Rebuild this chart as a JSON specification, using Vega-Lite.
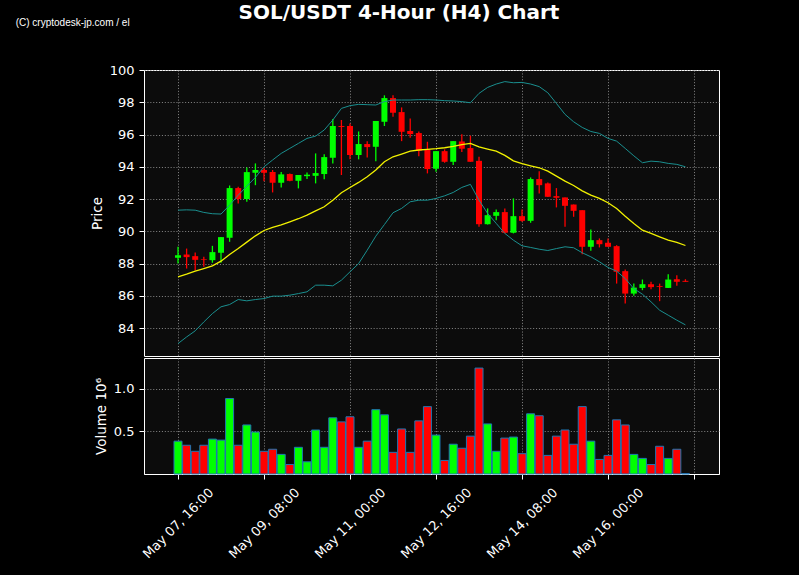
{
  "$schema": "https://vega.github.io/schema/vega-lite/v6.json",
  "background": "#000000",
  "padding": {"left": 15, "top": 2, "right": 79, "bottom": 17},
  "title": {
    "text": "(C) cryptodesk-jp.com / el",
    "anchor": "start",
    "frame": "bounds",
    "font": "Liberation Sans",
    "fontSize": 10,
    "fontWeight": "normal",
    "color": "#ffffff",
    "baseline": "alphabetic",
    "offset": -33,
    "dx": -74
  },
  "config": {
    "view": {"stroke": "#ffffff", "strokeWidth": 1, "fill": "#0c0c0c"},
    "axis": {
      "labelColor": "#ffffff",
      "titleColor": "#ffffff",
      "tickColor": "#ffffff",
      "domainColor": "#ffffff",
      "labelFont": "DejaVu Sans",
      "titleFont": "DejaVu Sans",
      "labelFontSize": 13,
      "titleFontSize": 13.5,
      "titleFontWeight": "normal",
      "tickSize": 5,
      "labelPadding": 5,
      "titlePadding": 5,
      "labelOverlap": false,
      "gridColor": "#8a8a8a",
      "gridDash": [1.1, 1.8],
      "gridWidth": 0.9,
      "gridOpacity": 1
    }
  },
  "datasets": {
    "candles": [
      {"t": "2025-05-07T16:00", "o": 88.36, "h": 89.04, "l": 88.00, "c": 88.52, "v": 385000, "bu": 91.31, "bm": 87.18, "bl": 83.04},
      {"t": "2025-05-07T20:00", "o": 88.56, "h": 88.93, "l": 87.69, "c": 88.40, "v": 337000, "bu": 91.33, "bm": 87.34, "bl": 83.45},
      {"t": "2025-05-08T00:00", "o": 88.46, "h": 88.69, "l": 87.59, "c": 88.23, "v": 266000, "bu": 91.31, "bm": 87.53, "bl": 83.83},
      {"t": "2025-05-08T04:00", "o": 88.27, "h": 88.42, "l": 87.80, "c": 88.23, "v": 337000, "bu": 91.17, "bm": 87.69, "bl": 84.38},
      {"t": "2025-05-08T08:00", "o": 88.21, "h": 89.10, "l": 88.05, "c": 88.71, "v": 409000, "bu": 91.09, "bm": 87.86, "bl": 84.90},
      {"t": "2025-05-08T12:00", "o": 88.67, "h": 89.64, "l": 88.05, "c": 89.64, "v": 397000, "bu": 91.07, "bm": 88.15, "bl": 85.32},
      {"t": "2025-05-08T16:00", "o": 89.60, "h": 92.84, "l": 89.35, "c": 92.68, "v": 885000, "bu": 91.62, "bm": 88.56, "bl": 85.46},
      {"t": "2025-05-08T20:00", "o": 92.68, "h": 92.76, "l": 91.73, "c": 92.00, "v": 337000, "bu": 92.24, "bm": 88.93, "bl": 85.77},
      {"t": "2025-05-09T00:00", "o": 92.00, "h": 93.96, "l": 91.83, "c": 93.67, "v": 575000, "bu": 92.80, "bm": 89.33, "bl": 85.69},
      {"t": "2025-05-09T04:00", "o": 93.63, "h": 94.21, "l": 92.86, "c": 93.80, "v": 492000, "bu": 93.34, "bm": 89.72, "bl": 85.77},
      {"t": "2025-05-09T08:00", "o": 93.80, "h": 93.92, "l": 93.11, "c": 93.63, "v": 266000, "bu": 94.00, "bm": 90.05, "bl": 85.83},
      {"t": "2025-05-09T12:00", "o": 93.67, "h": 93.80, "l": 92.41, "c": 93.01, "v": 290000, "bu": 94.42, "bm": 90.24, "bl": 85.98},
      {"t": "2025-05-09T16:00", "o": 93.01, "h": 93.67, "l": 92.72, "c": 93.53, "v": 230000, "bu": 94.83, "bm": 90.40, "bl": 85.98},
      {"t": "2025-05-09T20:00", "o": 93.55, "h": 93.59, "l": 93.11, "c": 93.13, "v": 111000, "bu": 95.14, "bm": 90.59, "bl": 86.04},
      {"t": "2025-05-10T00:00", "o": 93.13, "h": 93.49, "l": 92.66, "c": 93.49, "v": 313000, "bu": 95.45, "bm": 90.78, "bl": 86.14},
      {"t": "2025-05-10T04:00", "o": 93.42, "h": 93.65, "l": 93.24, "c": 93.51, "v": 143000, "bu": 95.76, "bm": 91.00, "bl": 86.25},
      {"t": "2025-05-10T08:00", "o": 93.44, "h": 94.83, "l": 92.97, "c": 93.61, "v": 516000, "bu": 95.90, "bm": 91.27, "bl": 86.66},
      {"t": "2025-05-10T12:00", "o": 93.55, "h": 94.77, "l": 93.22, "c": 94.60, "v": 313000, "bu": 96.28, "bm": 91.52, "bl": 86.66},
      {"t": "2025-05-10T16:00", "o": 94.56, "h": 96.96, "l": 94.21, "c": 96.53, "v": 659000, "bu": 96.90, "bm": 91.93, "bl": 86.62},
      {"t": "2025-05-10T20:00", "o": 96.53, "h": 96.90, "l": 93.49, "c": 96.47, "v": 611000, "bu": 97.62, "bm": 92.39, "bl": 86.97},
      {"t": "2025-05-11T00:00", "o": 96.53, "h": 96.69, "l": 94.46, "c": 94.73, "v": 671000, "bu": 97.79, "bm": 92.72, "bl": 87.49},
      {"t": "2025-05-11T04:00", "o": 94.73, "h": 96.19, "l": 94.46, "c": 95.41, "v": 313000, "bu": 97.87, "bm": 93.03, "bl": 88.00},
      {"t": "2025-05-11T08:00", "o": 95.41, "h": 95.59, "l": 94.58, "c": 95.22, "v": 385000, "bu": 97.85, "bm": 93.38, "bl": 88.83},
      {"t": "2025-05-11T12:00", "o": 95.24, "h": 96.84, "l": 94.35, "c": 96.84, "v": 754000, "bu": 97.83, "bm": 93.80, "bl": 89.70},
      {"t": "2025-05-11T16:00", "o": 96.79, "h": 98.43, "l": 96.53, "c": 98.26, "v": 694000, "bu": 98.04, "bm": 94.31, "bl": 90.42},
      {"t": "2025-05-11T20:00", "o": 98.26, "h": 98.43, "l": 97.10, "c": 97.35, "v": 254000, "bu": 98.14, "bm": 94.62, "bl": 91.15},
      {"t": "2025-05-12T00:00", "o": 97.39, "h": 97.68, "l": 95.59, "c": 96.17, "v": 528000, "bu": 98.14, "bm": 94.79, "bl": 91.42},
      {"t": "2025-05-12T04:00", "o": 96.22, "h": 97.00, "l": 95.80, "c": 96.03, "v": 254000, "bu": 98.14, "bm": 94.97, "bl": 91.83},
      {"t": "2025-05-12T08:00", "o": 96.09, "h": 96.19, "l": 94.66, "c": 95.00, "v": 623000, "bu": 98.16, "bm": 95.04, "bl": 91.93},
      {"t": "2025-05-12T12:00", "o": 95.08, "h": 95.55, "l": 93.59, "c": 93.86, "v": 790000, "bu": 98.16, "bm": 95.08, "bl": 91.93},
      {"t": "2025-05-12T16:00", "o": 93.88, "h": 94.97, "l": 93.69, "c": 94.97, "v": 456000, "bu": 98.14, "bm": 95.12, "bl": 92.04},
      {"t": "2025-05-12T20:00", "o": 94.97, "h": 95.08, "l": 94.25, "c": 94.31, "v": 159000, "bu": 98.10, "bm": 95.18, "bl": 92.20},
      {"t": "2025-05-13T00:00", "o": 94.31, "h": 95.59, "l": 94.11, "c": 95.59, "v": 349000, "bu": 98.08, "bm": 95.26, "bl": 92.41},
      {"t": "2025-05-13T04:00", "o": 95.57, "h": 96.01, "l": 94.91, "c": 95.12, "v": 302000, "bu": 98.04, "bm": 95.37, "bl": 92.72},
      {"t": "2025-05-13T08:00", "o": 95.16, "h": 95.93, "l": 94.31, "c": 94.31, "v": 444000, "bu": 97.97, "bm": 95.45, "bl": 92.91},
      {"t": "2025-05-13T12:00", "o": 94.37, "h": 94.62, "l": 90.28, "c": 90.44, "v": 1242000, "bu": 98.55, "bm": 95.24, "bl": 91.93},
      {"t": "2025-05-13T16:00", "o": 90.44, "h": 91.42, "l": 90.42, "c": 91.00, "v": 587000, "bu": 98.92, "bm": 95.10, "bl": 91.11},
      {"t": "2025-05-13T20:00", "o": 90.96, "h": 91.35, "l": 90.69, "c": 91.19, "v": 266000, "bu": 99.13, "bm": 94.97, "bl": 90.49},
      {"t": "2025-05-14T00:00", "o": 91.19, "h": 91.42, "l": 89.87, "c": 89.91, "v": 421000, "bu": 99.28, "bm": 94.71, "bl": 89.87},
      {"t": "2025-05-14T04:00", "o": 89.91, "h": 92.04, "l": 89.87, "c": 90.94, "v": 433000, "bu": 99.21, "bm": 94.37, "bl": 89.45},
      {"t": "2025-05-14T08:00", "o": 90.94, "h": 91.35, "l": 90.59, "c": 90.65, "v": 238000, "bu": 99.23, "bm": 94.19, "bl": 89.10},
      {"t": "2025-05-14T12:00", "o": 90.65, "h": 93.34, "l": 90.53, "c": 93.24, "v": 706000, "bu": 99.13, "bm": 94.06, "bl": 89.00},
      {"t": "2025-05-14T16:00", "o": 93.24, "h": 93.73, "l": 92.35, "c": 92.86, "v": 683000, "bu": 98.97, "bm": 93.94, "bl": 88.89},
      {"t": "2025-05-14T20:00", "o": 92.97, "h": 93.03, "l": 92.12, "c": 92.14, "v": 218000, "bu": 98.59, "bm": 93.73, "bl": 88.81},
      {"t": "2025-05-15T00:00", "o": 92.18, "h": 92.68, "l": 91.48, "c": 92.08, "v": 444000, "bu": 97.93, "bm": 93.42, "bl": 88.93},
      {"t": "2025-05-15T04:00", "o": 92.10, "h": 92.10, "l": 90.28, "c": 91.58, "v": 516000, "bu": 97.25, "bm": 93.11, "bl": 89.04},
      {"t": "2025-05-15T08:00", "o": 91.66, "h": 91.66, "l": 90.90, "c": 91.27, "v": 349000, "bu": 96.79, "bm": 92.84, "bl": 88.98},
      {"t": "2025-05-15T12:00", "o": 91.31, "h": 91.31, "l": 88.58, "c": 89.04, "v": 790000, "bu": 96.44, "bm": 92.51, "bl": 88.67},
      {"t": "2025-05-15T16:00", "o": 89.04, "h": 90.11, "l": 88.79, "c": 89.45, "v": 385000, "bu": 96.19, "bm": 92.24, "bl": 88.42},
      {"t": "2025-05-15T20:00", "o": 89.45, "h": 89.56, "l": 89.00, "c": 89.20, "v": 171000, "bu": 96.07, "bm": 92.04, "bl": 88.11},
      {"t": "2025-05-16T00:00", "o": 89.29, "h": 89.56, "l": 89.04, "c": 89.04, "v": 218000, "bu": 95.76, "bm": 91.77, "bl": 87.76},
      {"t": "2025-05-16T04:00", "o": 89.08, "h": 89.14, "l": 86.76, "c": 87.49, "v": 635000, "bu": 95.59, "bm": 91.42, "bl": 87.53},
      {"t": "2025-05-16T08:00", "o": 87.53, "h": 87.63, "l": 85.52, "c": 86.14, "v": 575000, "bu": 95.14, "bm": 90.94, "bl": 87.07},
      {"t": "2025-05-16T12:00", "o": 86.14, "h": 86.76, "l": 86.00, "c": 86.51, "v": 230000, "bu": 94.68, "bm": 90.49, "bl": 86.45},
      {"t": "2025-05-16T16:00", "o": 86.49, "h": 87.01, "l": 86.35, "c": 86.72, "v": 183000, "bu": 94.25, "bm": 90.07, "bl": 86.10},
      {"t": "2025-05-16T20:00", "o": 86.72, "h": 86.87, "l": 86.41, "c": 86.54, "v": 111000, "bu": 94.35, "bm": 89.87, "bl": 85.63},
      {"t": "2025-05-17T00:00", "o": 86.61, "h": 86.76, "l": 85.67, "c": 86.56, "v": 325000, "bu": 94.31, "bm": 89.66, "bl": 85.11},
      {"t": "2025-05-17T04:00", "o": 86.49, "h": 87.34, "l": 86.49, "c": 87.01, "v": 183000, "bu": 94.21, "bm": 89.45, "bl": 84.80},
      {"t": "2025-05-17T08:00", "o": 87.03, "h": 87.28, "l": 86.62, "c": 86.87, "v": 290000, "bu": 94.15, "bm": 89.31, "bl": 84.49},
      {"t": "2025-05-17T12:00", "o": 86.93, "h": 87.03, "l": 86.87, "c": 86.87, "v": 5000, "bu": 94.00, "bm": 89.12, "bl": 84.20}
    ]
  },
  "spacing": 0,
  "vconcat": [
    {
      "width": 575,
      "height": 286,
      "title": {
        "text": "SOL/USDT 4-Hour (H4) Chart",
        "anchor": "middle",
        "frame": "group",
        "font": "DejaVu Sans",
        "fontSize": 20,
        "fontWeight": "bold",
        "color": "#ffffff",
        "baseline": "alphabetic",
        "offset": 25,
        "dx": -32.5
      },
      "data": {"name": "candles"},
      "encoding": {
        "x": {
          "field": "t",
          "type": "temporal",
          "scale": {
            "domain": [
              {"year": 2025, "month": "May", "date": 7, "hours": 0, "minutes": 11},
              {"year": 2025, "month": "May", "date": 18, "hours": 3, "minutes": 37}
            ],
            "nice": false,
            "padding": 0
          },
          "axis": {
            "values": [
              {"year": 2025, "month": "May", "date": 7, "hours": 16},
              {"year": 2025, "month": "May", "date": 9, "hours": 8},
              {"year": 2025, "month": "May", "date": 11, "hours": 0},
              {"year": 2025, "month": "May", "date": 12, "hours": 16},
              {"year": 2025, "month": "May", "date": 14, "hours": 8},
              {"year": 2025, "month": "May", "date": 16, "hours": 0},
              {"year": 2025, "month": "May", "date": 17, "hours": 16}
            ],
            "labels": false,
            "ticks": false,
            "domain": false,
            "title": null,
            "grid": true
          }
        },
        "color": {
          "condition": {"test": "datum.c >= datum.o", "value": "#00ff00"},
          "value": "#ff0000"
        }
      },
      "layer": [
        {
          "mark": {"type": "rule", "strokeWidth": 1.3},
          "encoding": {
            "y": {
              "field": "l",
              "type": "quantitative",
              "title": "Price",
              "scale": {"domain": [82.27, 100], "nice": false, "zero": false},
              "axis": {"values": [84, 86, 88, 90, 92, 94, 96, 98, 100], "grid": true, "domain": false, "labelOverlap": false, "labelSeparation": 0}
            },
            "y2": {"field": "h"}
          }
        },
        {
          "mark": {"type": "bar", "width": 6},
          "encoding": {
            "y": {
              "field": "o",
              "type": "quantitative",
              "title": "Price",
              "axis": {"values": [84, 86, 88, 90, 92, 94, 96, 98, 100], "grid": true, "domain": false, "labelOverlap": false, "labelSeparation": 0}
            },
            "y2": {"field": "c"}
          }
        },
        {
          "mark": {"type": "line", "color": "#1a8f8f", "strokeWidth": 1},
          "encoding": {
            "y": {
              "field": "bu",
              "type": "quantitative",
              "title": "Price",
              "axis": {"values": [84, 86, 88, 90, 92, 94, 96, 98, 100], "grid": true, "domain": false, "labelOverlap": false, "labelSeparation": 0}
            },
            "color": {"value": "#1a8f8f"}
          }
        },
        {
          "mark": {"type": "line", "color": "#1a8f8f", "strokeWidth": 1},
          "encoding": {
            "y": {
              "field": "bl",
              "type": "quantitative",
              "title": "Price",
              "axis": {"values": [84, 86, 88, 90, 92, 94, 96, 98, 100], "grid": true, "domain": false, "labelOverlap": false, "labelSeparation": 0}
            },
            "color": {"value": "#1a8f8f"}
          }
        },
        {
          "mark": {"type": "line", "color": "#f2f200", "strokeWidth": 1.3},
          "encoding": {
            "y": {
              "field": "bm",
              "type": "quantitative",
              "title": "Price",
              "axis": {"values": [84, 86, 88, 90, 92, 94, 96, 98, 100], "grid": true, "domain": false, "labelOverlap": false, "labelSeparation": 0}
            },
            "color": {"value": "#f2f200"}
          }
        }
      ]
    },
    {
      "width": 575,
      "height": 116,
      "data": {"name": "candles"},
      "mark": {"type": "bar", "width": 8, "stroke": "#1f77b4", "strokeWidth": 1},
      "encoding": {
        "x": {
          "field": "t",
          "type": "temporal",
          "scale": {
            "domain": [
              {"year": 2025, "month": "May", "date": 7, "hours": 0, "minutes": 11},
              {"year": 2025, "month": "May", "date": 18, "hours": 3, "minutes": 37}
            ],
            "nice": false,
            "padding": 0
          },
          "axis": {
            "values": [
              {"year": 2025, "month": "May", "date": 7, "hours": 16},
              {"year": 2025, "month": "May", "date": 9, "hours": 8},
              {"year": 2025, "month": "May", "date": 11, "hours": 0},
              {"year": 2025, "month": "May", "date": 12, "hours": 16},
              {"year": 2025, "month": "May", "date": 14, "hours": 8},
              {"year": 2025, "month": "May", "date": 16, "hours": 0},
              {"year": 2025, "month": "May", "date": 17, "hours": 16}
            ],
            "labelExpr": "timeFormat(datum.value, '%d %H') == '17 16' ? '' : timeFormat(datum.value, '%b %d, %H:%M')",
            "labelAngle": -45,
            "labelAlign": "center",
            "labelBaseline": "middle",
            "labelPadding": 44,
            "labelOverlap": false,
            "labelFlush": false,
            "labelBound": false,
            "title": null,
            "grid": true
          }
        },
        "y": {
          "field": "v",
          "type": "quantitative",
          "title": "Volume  10⁶",
          "scale": {"domain": [0, 1360000], "nice": false},
          "axis": {
            "values": [500000, 1000000],
            "labelExpr": "format(datum.value / 1000000, '.1f')",
            "grid": true,
            "domain": false
          }
        },
        "color": {
          "condition": {"test": "datum.c >= datum.o", "value": "#00ff00"},
          "value": "#ff0000"
        }
      }
    }
  ]
}
